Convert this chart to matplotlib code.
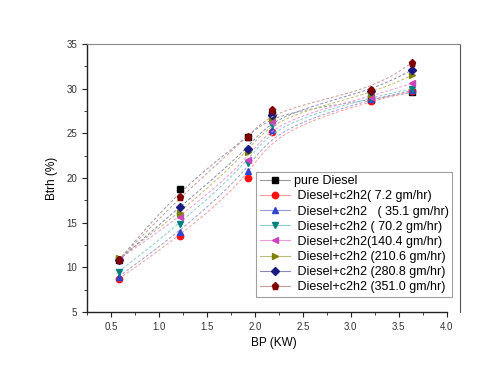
import numpy as np
import matplotlib
matplotlib.use("Agg")
import matplotlib.pyplot as plt
from matplotlib.lines import Line2D

plt.rcParams['font.family'] = ['Liberation Sans', 'DejaVu Sans']

# данные
bp = [0.58, 1.22, 1.93, 2.18, 3.21, 3.64]

pure_diesel = [10.8, 18.8, 24.6, 27.2, 28.7, 29.6]
c2h2_7_2 = [8.7, 13.5, 20.0, 25.1, 28.6, 29.7]
c2h2_35_1 = [8.95, 14.0, 20.8, 25.4, 28.8, 29.8]
c2h2_70_2 = [9.5, 14.9, 21.7, 25.9, 29.0, 30.0]
c2h2_140_4 = [10.9, 15.6, 22.0, 26.3, 29.1, 30.6]
c2h2_210_6 = [11.0, 16.1, 22.9, 26.7, 29.4, 31.5]
c2h2_280_8 = [10.8, 16.8, 23.2, 27.0, 29.7, 32.1]
c2h2_351_0 = [10.8, 17.9, 24.6, 27.6, 29.8, 32.9]

labels = ["pure Diesel",
          " Diesel+c2h2( 7.2 gm/hr)",
          " Diesel+c2h2   ( 35.1 gm/hr)",
          " Diesel+c2h2 ( 70.2 gm/hr)",
          " Diesel+c2h2(140.4 gm/hr)",
          " Diesel+c2h2 (210.6 gm/hr)",
          " Diesel+c2h2 (280.8 gm/hr)",
          " Diesel+c2h2 (351.0 gm/hr)"]

series = [pure_diesel, c2h2_7_2, c2h2_35_1, c2h2_70_2,
          c2h2_140_4, c2h2_210_6, c2h2_280_8, c2h2_351_0]

marker_colors = ['#000000', '#FF1010', '#3344CC', '#008080',
                 '#CC44BB', '#808000', '#1A1A80', '#800000']
line_colors = ['#999999', '#FF9999', '#9999DD', '#88CCCC',
               '#EE99DD', '#BBBB77', '#8888BB', '#CC9999']
markers = ['s', 'o', '^', 'v', '<', '>', 'D', 'p']
msizes = [4.2, 4.6, 4.8, 4.8, 4.8, 4.8, 4.2, 5.2]


def bspline_curve(x, y, n=40):
    """Кубический B-сплайн по точкам как по контрольным (как B-Spline в Origin)"""
    px = np.concatenate([[x[0]] * 2, x, [x[-1]] * 2]).astype(float)
    py = np.concatenate([[y[0]] * 2, y, [y[-1]] * 2]).astype(float)
    t = np.linspace(0, 1, n)
    b0 = (1 - t) ** 3 / 6
    b1 = (3 * t ** 3 - 6 * t ** 2 + 4) / 6
    b2 = (-3 * t ** 3 + 3 * t ** 2 + 3 * t + 1) / 6
    b3 = t ** 3 / 6
    xs, ys = [], []
    for i in range(len(px) - 3):
        xs.append(b0 * px[i] + b1 * px[i + 1] + b2 * px[i + 2] + b3 * px[i + 3])
        ys.append(b0 * py[i] + b1 * py[i + 1] + b2 * py[i + 2] + b3 * py[i + 3])
    return np.concatenate(xs), np.concatenate(ys)


fig = plt.figure(figsize=(4.86, 3.75), dpi=100)
ax = fig.add_axes([0.179, 0.168, 0.768, 0.715])

handles = []
for vals, lab, mc, lc, mk, ms in zip(series, labels, marker_colors,
                                     line_colors, markers, msizes):
    xs, ys = bspline_curve(bp, vals)
    ax.plot(xs, ys, color=lc, lw=0.7, ls=(0, (3, 2)))
    ax.plot(bp, vals, ls='none', marker=mk, ms=ms, color=mc, mec=mc)
    handles.append(Line2D([], [], color=lc, lw=0.8, marker=mk, ms=ms,
                          mfc=mc, mec=mc, label=lab))

ax.set_xlim(0.25, 4.14)
ax.set_ylim(5, 35)
ax.set_xticks(np.arange(0.5, 4.01, 0.5))
ax.set_xticks(np.arange(0.25, 4.01, 0.25), minor=True)
ax.set_yticks(np.arange(5, 35.1, 5))
ax.set_yticks(np.arange(5, 35.1, 2.5), minor=True)
ax.set_xticklabels(["%.1f" % v for v in np.arange(0.5, 4.01, 0.5)])

ax.tick_params(which='both', direction='out', top=False, right=False,
               labelsize=7, labelcolor='#333333', color='#222222')
ax.tick_params(which='major', length=3.5, width=0.8)
ax.tick_params(which='minor', length=2, width=0.6)

ax.spines['bottom'].set_bounds(0.25, 4.0)
ax.spines['top'].set_color('#888888')
ax.spines['right'].set_color('#555555')
for s in ['left', 'bottom']:
    ax.spines[s].set_linewidth(1.0)
    ax.spines[s].set_color('#222222')

ax.set_xlabel("BP (KW)", fontsize=8.5, labelpad=4)
ax.set_ylabel("Btrh (%)", fontsize=8.5, labelpad=6)

leg = ax.legend(handles=handles, loc='lower right',
                bbox_to_anchor=(0.979, 0.056), borderaxespad=0,
                fontsize=9.0, frameon=True, fancybox=False,
                handlelength=2.4, handletextpad=0.3, labelspacing=0.25,
                borderpad=0.3)
leg.get_frame().set_edgecolor('#888888')
leg.get_frame().set_linewidth(0.8)

fig.savefig("out.png", dpi=100)
